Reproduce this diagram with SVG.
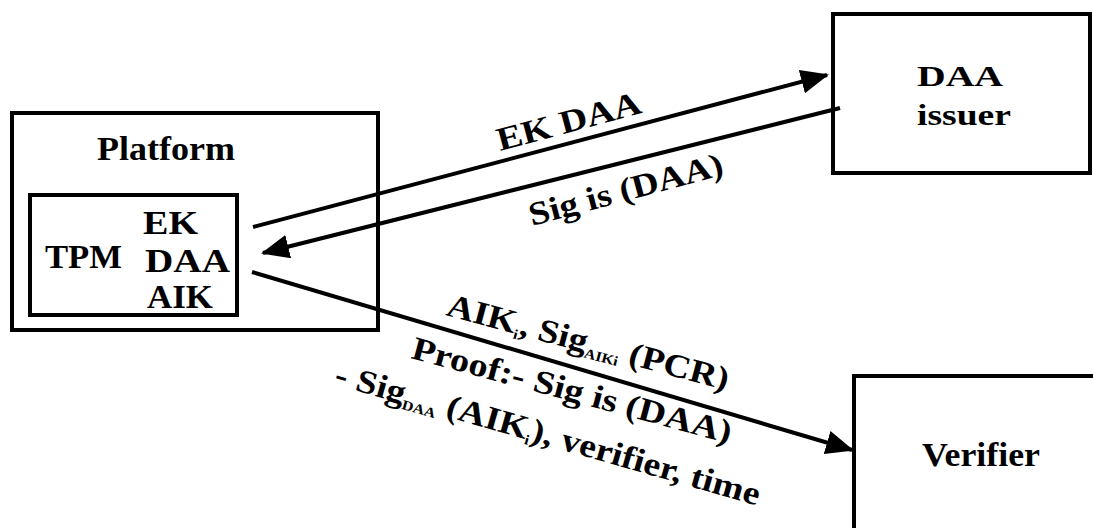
<svg xmlns="http://www.w3.org/2000/svg" width="1093" height="528" viewBox="0 0 1093 528">
<style>
  .box{fill:#fff;stroke:#000;stroke-width:4}
  .t{font-family:"Liberation Serif","Times New Roman",serif;font-weight:bold;font-size:33px;fill:#000}
  .c{stroke:#000;stroke-width:4;fill:none;marker-end:url(#ah)}
  .sub{font-size:14px}
</style>
<defs>
  <marker id="ah" markerUnits="userSpaceOnUse" markerWidth="28" markerHeight="24" viewBox="0 0 28 24" refX="26" refY="12" orient="auto">
    <path d="M0,0 L28,12 L0,24 z" fill="#000"/>
  </marker>
</defs>
<rect width="1093" height="528" fill="#fff"/>

<g id="platform">
  <rect class="box" x="12" y="113" width="366" height="217"/>
  <text class="t" x="97" y="160" textLength="138" lengthAdjust="spacingAndGlyphs">Platform</text>
</g>
<g id="tpm">
  <rect class="box" x="30" y="195" width="207" height="120"/>
  <text class="t" x="45" y="268" textLength="77" lengthAdjust="spacingAndGlyphs">TPM</text>
  <text class="t" x="143" y="234" textLength="55" lengthAdjust="spacingAndGlyphs">EK</text>
  <text class="t" x="145" y="272" textLength="85" lengthAdjust="spacingAndGlyphs">DAA</text>
  <text class="t" x="147" y="308" textLength="66" lengthAdjust="spacingAndGlyphs">AIK</text>
</g>
<g id="daa-issuer">
  <rect class="box" x="833" y="14" width="257" height="159"/>
  <text class="t" x="917" y="86" style="font-size:30px" textLength="86" lengthAdjust="spacingAndGlyphs">DAA</text>
  <text class="t" x="917" y="125" style="font-size:30px" textLength="94" lengthAdjust="spacingAndGlyphs">issuer</text>
</g>
<g id="verifier">
  <rect class="box" x="854" y="376" width="260" height="170"/>
  <text class="t" x="922" y="466" textLength="118" lengthAdjust="spacingAndGlyphs">Verifier</text>
</g>

<g id="connectors">
  <line class="c" x1="253" y1="227" x2="827" y2="75"/>
  <line class="c" x1="840" y1="108" x2="263" y2="253"/>
  <line class="c" x1="252" y1="272" x2="852" y2="450"/>
  <text class="t" transform="translate(500,151) rotate(-15)" textLength="148" lengthAdjust="spacingAndGlyphs">EK DAA</text>
  <text class="t" transform="translate(532,226) rotate(-15)" textLength="200" lengthAdjust="spacingAndGlyphs">Sig is (DAA)</text>
  <text class="t" transform="translate(445,315) rotate(15) scale(1.14,1)">AIK<tspan class="sub" dy="5">i</tspan><tspan dy="-5">, Sig</tspan><tspan class="sub" dy="5">AIKi</tspan><tspan dy="-5"> (PCR)</tspan></text>
  <text class="t" transform="translate(410,358) rotate(15) scale(1.16,1)">Proof:- Sig is (DAA)</text>
  <text class="t" transform="translate(333,384) rotate(16) scale(1.14,1)">- Sig<tspan class="sub" dy="5">DAA</tspan><tspan dy="-5"> (AIK</tspan><tspan class="sub" dy="5">i</tspan><tspan dy="-5">), verifier, time</tspan></text>
</g>
</svg>
